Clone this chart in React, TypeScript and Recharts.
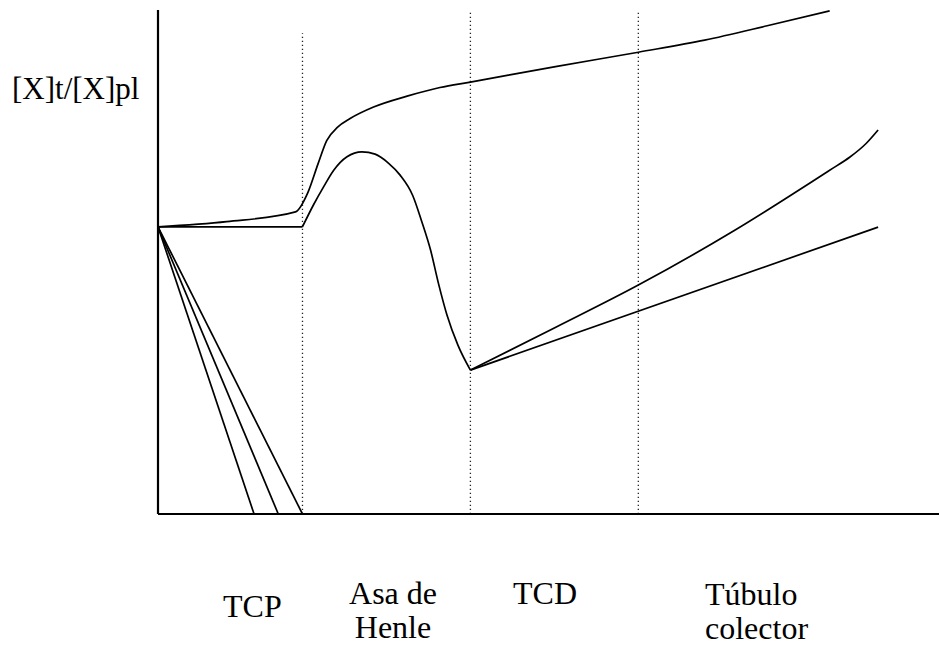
import React from "react";
import { LineChart, Line, XAxis, YAxis, ReferenceLine } from "recharts";

// x: position along the nephron (% of length), y: [X]t/[X]pl
const segmentEnds = [18.5, 40, 61.5];
const segmentTops = [1.674, 1.755, 1.755];

const upperCurve = [
  { x: 0, y: 1.0 },
  { x: 8.8, y: 1.018 },
  { x: 17.6, y: 1.052 },
  { x: 19.2, y: 1.12 },
  { x: 20.5, y: 1.22 },
  { x: 21.6, y: 1.3 },
  { x: 23.0, y: 1.347 },
  { x: 24.6, y: 1.377 },
  { x: 27.6, y: 1.417 },
  { x: 31.9, y: 1.455 },
  { x: 36.1, y: 1.485 },
  { x: 40.0, y: 1.504 },
  { x: 50.9, y: 1.558 },
  { x: 61.5, y: 1.608 },
  { x: 70.0, y: 1.65 },
  { x: 78.0, y: 1.7 },
  { x: 86.0, y: 1.752 },
];

const flatTcp = [
  { x: 0, y: 1.0 },
  { x: 18.5, y: 1.0 },
];

const henleLoop = [
  { x: 18.5, y: 1.0 },
  { x: 19.9, y: 1.076 },
  { x: 21.2, y: 1.139 },
  { x: 22.5, y: 1.197 },
  { x: 24.2, y: 1.244 },
  { x: 26.1, y: 1.261 },
  { x: 27.8, y: 1.253 },
  { x: 29.5, y: 1.222 },
  { x: 31.0, y: 1.18 },
  { x: 32.6, y: 1.11 },
  { x: 33.8, y: 1.016 },
  { x: 34.9, y: 0.919 },
  { x: 35.9, y: 0.804 },
  { x: 37.0, y: 0.693 },
  { x: 38.4, y: 0.588 },
  { x: 40.0, y: 0.501 },
];

const distalRise = [
  { x: 40.0, y: 0.501 },
  { x: 51.0, y: 0.651 },
  { x: 61.5, y: 0.797 },
  { x: 73.9, y: 0.989 },
  { x: 86.0, y: 1.197 },
  { x: 88.6, y: 1.243 },
  { x: 90.7, y: 1.291 },
  { x: 92.2, y: 1.337 },
];

const distalLinear = [
  { x: 40.0, y: 0.501 },
  { x: 92.2, y: 0.999 },
];

const fallA = [
  { x: 0, y: 1.0 },
  { x: 12.3, y: 0 },
];
const fallB = [
  { x: 0, y: 1.0 },
  { x: 15.4, y: 0 },
];
const fallC = [
  { x: 0, y: 1.0 },
  { x: 18.5, y: 0 },
];

const yLabel = "[X]t/[X]pl";
const segmentLabels = [
  { lines: ["TCP"], x: 223, y: 617, anchor: "start" },
  { lines: ["Asa de", "Henle"], x: 393, y: 604, anchor: "middle" },
  { lines: ["TCD"], x: 513, y: 604, anchor: "start" },
  { lines: ["Túbulo", "colector"], x: 705, y: 605, anchor: "start" },
];

const serif = "'Liberation Serif', 'Times New Roman', serif";

export default function App() {
  const stroke = "#000";
  const lines = [
    { data: upperCurve, type: "monotone" },
    { data: flatTcp, type: "linear" },
    { data: henleLoop, type: "monotone" },
    { data: distalRise, type: "monotone" },
    { data: distalLinear, type: "linear" },
    { data: fallA, type: "linear" },
    { data: fallB, type: "linear" },
    { data: fallC, type: "linear" },
  ];
  return (
    <div style={{ position: "absolute", left: 0, top: 0, width: 940, height: 646, background: "#fff" }}>
      <LineChart
        width={940}
        height={646}
        margin={{ top: 10, right: 1, bottom: 132, left: 158 }}
      >
        <XAxis type="number" dataKey="x" domain={[0, 100]} hide />
        <YAxis type="number" dataKey="y" domain={[0, 1.755]} hide />
        {segmentEnds.map((x, i) => (
          <ReferenceLine
            key={x}
            segment={[
              { x, y: 0 },
              { x, y: segmentTops[i] },
            ]}
            stroke="#222"
            strokeWidth={1.3}
            strokeDasharray="1.3 2.7"
          />
        ))}
        {/* axes */}
        <ReferenceLine y={0} stroke={stroke} strokeWidth={2.2} />
        <ReferenceLine x={0} stroke={stroke} strokeWidth={2.2} />
        {lines.map((l, i) => (
          <Line
            key={i}
            data={l.data}
            dataKey="y"
            type={l.type as "monotone" | "linear"}
            stroke={stroke}
            strokeWidth={1.7}
            dot={false}
            isAnimationActive={false}
          />
        ))}
      </LineChart>
      <svg
        width={940}
        height={646}
        style={{ position: "absolute", left: 0, top: 0, pointerEvents: "none" }}
      >
        <text x={12} y={99} fontFamily={serif} fontSize={31} fill="#000">
          {yLabel}
        </text>
        {segmentLabels.map((lab) => (
          <text
            key={lab.lines[0]}
            x={lab.x}
            y={lab.y}
            textAnchor={lab.anchor as "start" | "middle"}
            fontFamily={serif}
            fontSize={32}
            fill="#000"
          >
            {lab.lines.map((ln, j) => (
              <tspan key={ln} x={lab.x} dy={j === 0 ? 0 : 34}>
                {ln}
              </tspan>
            ))}
          </text>
        ))}
      </svg>
    </div>
  );
}
